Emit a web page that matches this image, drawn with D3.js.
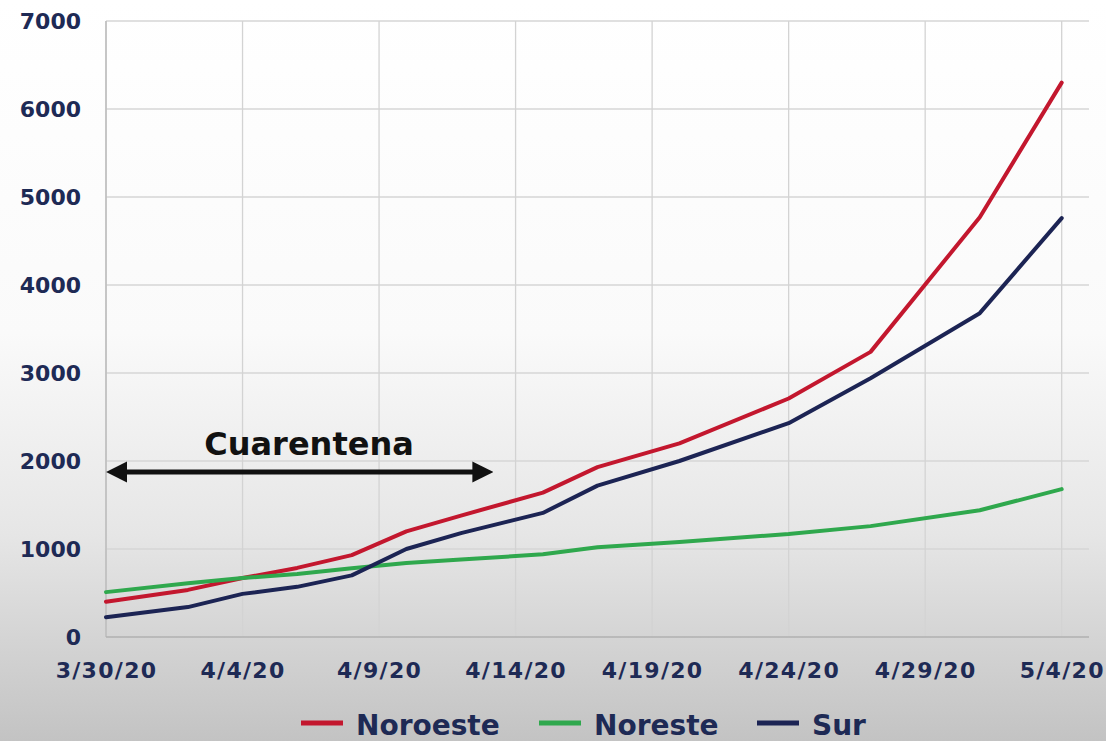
<!DOCTYPE html>
<html>
<head>
<meta charset="utf-8">
<script src="https://cdn.jsdelivr.net/npm/d3@7"></script>
<style>
  html, body { margin: 0; padding: 0; }
  svg { display: block; }
</style>
</head>
<body>
<svg id="chart" width="1106" height="741"></svg>
<script>
const dates = ["2020-03-30","2020-04-02","2020-04-04","2020-04-06","2020-04-08","2020-04-10","2020-04-12","2020-04-15","2020-04-17","2020-04-20","2020-04-24","2020-04-27","2020-05-01","2020-05-04"];
const noroeste = [400, 535, 670, 785, 930, 1200, 1380, 1640, 1930, 2200, 2710, 3240, 4770, 6300];
const noreste  = [510, 610, 670, 715, 780, 840, 880, 940, 1020, 1080, 1170, 1260, 1440, 1680];
const sur      = [225, 340, 490, 570, 700, 1000, 1180, 1410, 1720, 2000, 2430, 2940, 3680, 4760];
const seriesNames = ["Noroeste", "Noreste", "Sur"];
const yTicks = [0, 1000, 2000, 3000, 4000, 5000, 6000, 7000];
const xTickLabels = ["3/30/20","4/4/20","4/9/20","4/14/20","4/19/20","4/24/20","4/29/20","5/4/20"];
const annotationText = "Cuarentena";
const annotationStart = "2020-03-30";
const annotationEnd = "2020-04-14";

const colors = ["#c3172e", "#2fa84d", "#1c2454"];
const textColor = "#1e2a55";
const FONT = "'DejaVu Sans', sans-serif";
const parse = d3.timeParse("%Y-%m-%d");
const tickParse = d3.timeParse("%m/%d/%y");

const svg = d3.select("#chart");
const W = 1106, H = 741;

// background gradient
const defs = svg.append("defs");
const grad = defs.append("linearGradient").attr("id","bg").attr("x1",0).attr("y1",0).attr("x2",0).attr("y2",1);
grad.append("stop").attr("offset","0%").attr("stop-color","#ffffff");
grad.append("stop").attr("offset","45%").attr("stop-color","#fafafa");
grad.append("stop").attr("offset","72%").attr("stop-color","#e6e6e6");
grad.append("stop").attr("offset","100%").attr("stop-color","#c3c3c3");
svg.append("rect").attr("width",W).attr("height",H).attr("fill","url(#bg)");

const x = d3.scaleTime()
  .domain([parse("2020-03-30"), parse("2020-05-05")])
  .range([106, 1089]);
const y = d3.scaleLinear().domain([0, 7000]).range([637, 21]);

const tickDates = xTickLabels.map(t => tickParse(t));

// gridlines
const g = svg.append("g");
g.selectAll("line.hg").data(yTicks.filter(v => v > 0)).enter().append("line")
  .attr("x1", x.range()[0]).attr("x2", x.range()[1])
  .attr("y1", d => y(d)).attr("y2", d => y(d))
  .attr("stroke", "#d6d6d6").attr("stroke-width", 1.3);
g.selectAll("line.vg").data(tickDates).enter().append("line")
  .attr("x1", d => x(d)).attr("x2", d => x(d))
  .attr("y1", y(7000)).attr("y2", y(0))
  .attr("stroke", "#d3d3d3").attr("stroke-width", 1.3);
// axes lines
g.append("line").attr("x1", x.range()[0]).attr("x2", x.range()[0]).attr("y1", y(7000)).attr("y2", y(0))
  .attr("stroke", "#bdbdbd").attr("stroke-width", 1.5);
g.append("line").attr("x1", x.range()[0]).attr("x2", x.range()[1]).attr("y1", y(0)).attr("y2", y(0))
  .attr("stroke", "#b0b0b0").attr("stroke-width", 1.5);

// y axis labels
const yAxis = d3.axisLeft(y).tickValues(yTicks).tickSize(0).tickPadding(0).tickFormat(d3.format("d"));
const ya = svg.append("g").attr("transform", "translate(81,0)").call(yAxis);
ya.select(".domain").remove();
ya.selectAll("text").attr("fill", textColor).style("font-family", FONT)
  .style("font-weight", "bold").style("font-size", "22px").attr("dy", "0.36em");

// x axis labels
const xAxis = d3.axisBottom(x).tickValues(tickDates).tickSize(0).tickPadding(0)
  .tickFormat((d, i) => xTickLabels[i]);
const xa = svg.append("g").attr("transform", "translate(0,670)").call(xAxis);
xa.select(".domain").remove();
xa.selectAll("text").attr("fill", textColor).style("font-family", FONT)
  .style("font-weight", "bold").style("font-size", "22px").style("letter-spacing", "1.3px")
  .attr("dy", "0.36em").attr("y", 0);

// lines
const allSeries = [noroeste, noreste, sur];
const line = d3.line().x((d, i) => x(parse(dates[i]))).y(d => y(d));
allSeries.forEach((s, k) => {
  svg.append("path").datum(s).attr("d", line)
    .attr("fill", "none").attr("stroke", colors[k]).attr("stroke-width", 4)
    .attr("stroke-linejoin", "round").attr("stroke-linecap", "round");
});

// annotation
defs.append("marker").attr("id","ah").attr("viewBox","0 0 10 10").attr("refX",2).attr("refY",5)
  .attr("markerWidth",4.4).attr("markerHeight",4.4).attr("orient","auto-start-reverse")
  .append("path").attr("d","M0,0 L10,5 L0,10 Z").attr("fill","#111");
const tipL = x(parse(annotationStart)) + 1, tipR = x(parse(annotationEnd)) - 23;
svg.append("line").attr("x1", tipL + 16).attr("x2", tipR - 16).attr("y1", 472).attr("y2", 472)
  .attr("stroke", "#111").attr("stroke-width", 4.8)
  .attr("marker-start", "url(#ah)").attr("marker-end", "url(#ah)");
svg.append("text").attr("x", 309).attr("y", 455).attr("text-anchor", "middle")
  .attr("fill", "#111").style("font-family", FONT)
  .style("font-weight", "bold").style("font-size", "32px").text(annotationText);

// legend
const legendX = [301, 539, 757];
const lg = svg.append("g");
seriesNames.forEach((n, k) => {
  lg.append("line").attr("x1", legendX[k]).attr("x2", legendX[k] + 42).attr("y1", 723).attr("y2", 723)
    .attr("stroke", colors[k]).attr("stroke-width", 5);
  lg.append("text").attr("x", legendX[k] + 55).attr("y", 735)
    .attr("fill", textColor).style("font-family", FONT)
    .style("font-weight", "bold").style("font-size", "28px").text(n);
});
</script>
</body>
</html>
